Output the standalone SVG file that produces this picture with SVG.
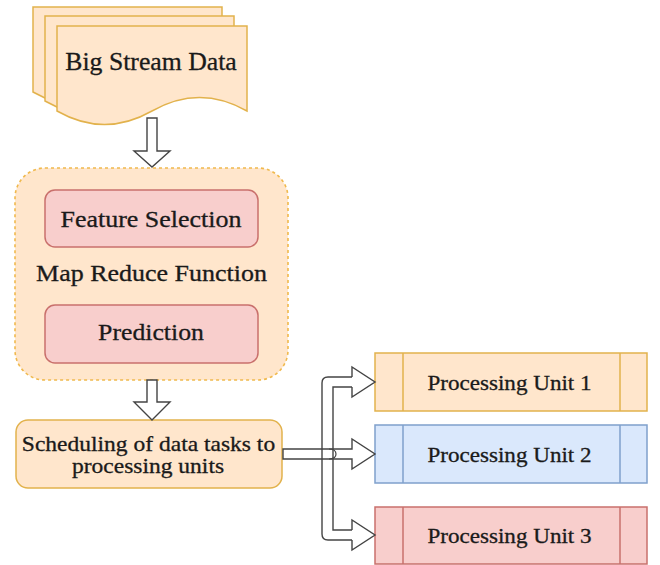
<svg xmlns="http://www.w3.org/2000/svg" width="660" height="565" viewBox="0 0 660 565">
<style>
.org{fill:#ffe6cc;stroke:#e2b24c;stroke-width:1.5}
.red{fill:#f8cecc;stroke:#c9706c;stroke-width:1.5}
.blu{fill:#dae8fc;stroke:#7fa0cc;stroke-width:1.5}
.arr{fill:#fff;stroke:#444;stroke-width:1.4;stroke-linejoin:miter}
.ln{fill:none;stroke:#444;stroke-width:1.4}
text{stroke:#1a1a1a;stroke-width:0.3}
</style>
<rect width="660" height="565" fill="#fff"/>
<g font-family="Liberation Serif" fill="#1a1a1a" text-anchor="middle">
<g id="big-stream-data">
<path class="org" d="M33,7 L222,7 L222,92 Q175,65 128,92 Q80,119 33,92 Z"/>
<path class="org" d="M45,16 L234,16 L234,101 Q187,74 140,101 Q92,128 45,101 Z"/>
<path class="org" d="M57,26 L247,26 L247,111 Q199.5,84 152,111 Q104.5,138 57,111 Z"/>
<text transform="translate(151,70) scale(1.05,1)" font-size="24.5">Big Stream Data</text>
</g>
<g id="map-reduce">
<rect x="15" y="168" width="273" height="212" rx="30" fill="#ffe6cc" stroke="#f0b94d" stroke-width="1.6" stroke-dasharray="3 3"/>
<text transform="translate(151.5,281) scale(1.13,1)" font-size="23">Map Reduce Function</text>
</g>
<g id="feature-selection">
<rect class="red" x="45" y="190" width="213" height="57" rx="10"/>
<text transform="translate(151,227) scale(1.13,1)" font-size="23">Feature Selection</text>
</g>
<g id="prediction">
<rect class="red" x="45" y="305" width="213" height="58" rx="10"/>
<text transform="translate(151,340) scale(1.12,1)" font-size="23">Prediction</text>
</g>
<g id="scheduling">
<rect class="org" x="16" y="420" width="266" height="68" rx="12"/>
<text transform="translate(148.5,451) scale(1.12,1)" font-size="21">Scheduling of data tasks to</text>
<text transform="translate(148,473) scale(1.12,1)" font-size="21">processing units</text>
</g>
<g id="pu1">
<rect class="org" x="375" y="353" width="272" height="58"/>
<line class="org" x1="403" y1="353" x2="403" y2="411"/>
<line class="org" x1="620" y1="353" x2="620" y2="411"/>
<text transform="translate(509.5,390) scale(1.1,1)" font-size="21">Processing Unit 1</text>
</g>
<g id="pu2">
<rect class="blu" x="375" y="425" width="272" height="58"/>
<line class="blu" x1="403" y1="425" x2="403" y2="483"/>
<line class="blu" x1="620" y1="425" x2="620" y2="483"/>
<text transform="translate(509.5,462) scale(1.1,1)" font-size="21">Processing Unit 2</text>
</g>
<g id="pu3">
<rect class="red" x="375" y="507" width="272" height="57"/>
<line class="red" x1="403" y1="507" x2="403" y2="564"/>
<line class="red" x1="620" y1="507" x2="620" y2="564"/>
<text transform="translate(509.5,543) scale(1.1,1)" font-size="21">Processing Unit 3</text>
</g>
</g>
<g id="connectors">
<path class="arr" d="M147,118 L157,118 L157,151 L170,151 L152,167 L134,151 L147,151 Z"/>
<path class="arr" d="M147,380 L157,380 L157,402 L170,402 L152,420 L134,402 L147,402 Z"/>
<path class="arr" d="M283,449 L352,449 L352,439 L375,454 L352,469 L352,459 L283,459 Z"/>
<path class="ln" d="M352,377 L328,377 Q322,377 322,383 L322,534 Q322,540 328,540 L352,540"/>
<path class="ln" d="M352,387 L333,387 L333,530 L352,530"/>
<path class="ln" d="M352,377 L352,367 L375,382 L352,397 L352,387"/>
<path class="ln" d="M352,530 L352,520 L375,535 L352,550 L352,540"/>
<path d="M329,449 Q336,449 336,454 Q336,459 329,459" fill="none" stroke="#444" stroke-width="1.2"/>
</g>
</svg>
